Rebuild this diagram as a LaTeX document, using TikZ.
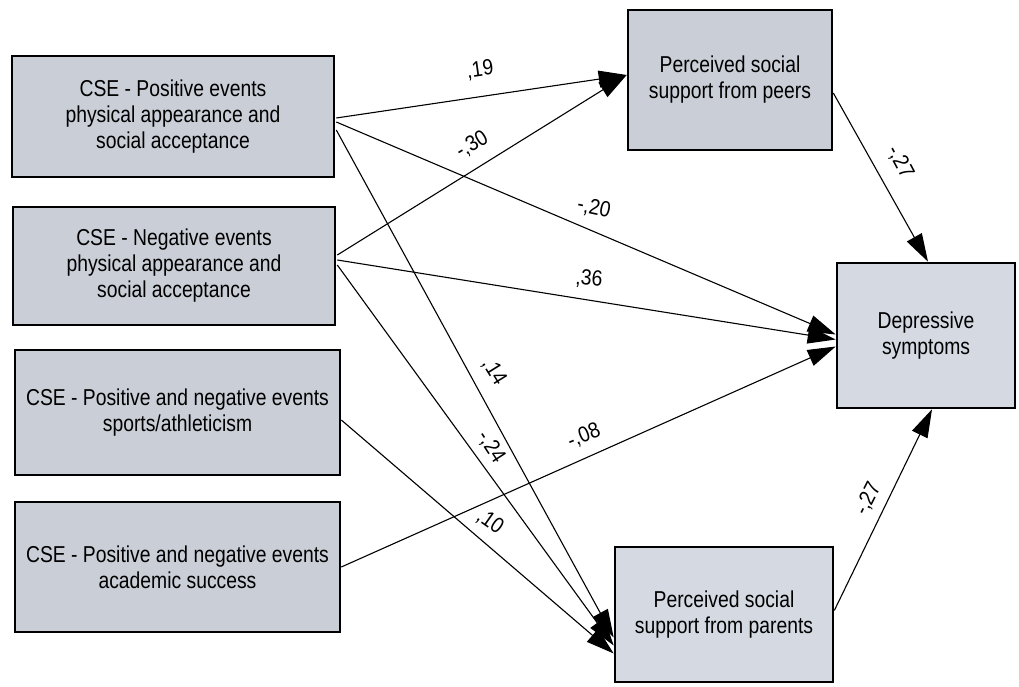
\documentclass[tikz,border=0pt]{standalone}
\usepackage{fontspec}
\usetikzlibrary{arrows.meta,calc}
\newfontfamily\boxfont{Liberation Sans}[FakeStretch=0.84]
\newfontfamily\lblfont{Liberation Sans}[FakeStretch=0.88]
\definecolor{boxfill}{RGB}{202,206,215}
\definecolor{depfill}{RGB}{212,217,226}
\begin{document}
\begin{tikzpicture}[x=1pt,y=-1pt,
  box/.style={draw=black, line width=2.6pt, fill=boxfill, align=center, inner sep=0pt,
    font=\boxfont\fontsize{23}{26}\selectfont},
  conn/.style={line width=1.1pt, -{Triangle[length=28pt,width=17pt]}},
  lbl/.style={font=\lblfont\fontsize{22}{24}\selectfont, inner sep=0pt}]
\useasboundingbox (0,0) rectangle (1019,687);
\fill[white] (0,0) rectangle (1019,687);
% boxes
\node[box, minimum width=322pt, minimum height=121pt] (b1) at (173,116.5)
  {CSE - Positive events\\physical appearance and\\social acceptance};
\node[box, minimum width=322pt, minimum height=118pt] (b2) at (174,266)
  {CSE - Negative events\\physical appearance and\\social acceptance};
\node[box, minimum width=325pt, minimum height=125pt] (b3) at (177.5,412.5)
  {CSE - Positive and negative events\\sports/athleticism};
\node[box, minimum width=325pt, minimum height=130pt] (b4) at (177.5,567)
  {CSE - Positive and negative events\\academic success};
\node[box, minimum width=204pt, minimum height=140pt] (peers) at (730,80)
  {Perceived social\\support from peers};
\node[box, fill=depfill, minimum width=178pt, minimum height=145pt] (dep) at (926,335.5)
  {Depressive\\symptoms};
\node[box, fill=depfill, minimum width=218pt, minimum height=135pt] (par) at (724,614.5)
  {Perceived social\\support from parents};
% connectors
\draw[conn] ($(b1.east)+(1,1.5)$) -- ($(peers.west)+(0,-5)$);
\draw[conn] ($(b2.east)+(1,-11)$) -- ($(peers.west)+(0,-5)$);
\draw[conn] ($(b1.east)+(1,5.5)$) -- ($(dep.west)+(0,-1)$);
\draw[conn] ($(b2.east)+(1,-6)$) -- ($(dep.west)+(0,4)$);
\draw[conn] ($(b4.east)+(0,0)$) -- ($(dep.west)+(0,11)$);
\draw[conn] ($(b1.east)+(1,13.5)$) -- ($(par.west)+(0,23)$);
\draw[conn] ($(b2.east)+(1,-1)$) -- ($(par.west)+(0,31)$);
\draw[conn] ($(b3.east)+(0,7.5)$) -- ($(par.west)+(0,39)$);
\draw[conn] ($(peers.east)+(0,13)$) -- ($(dep.north)+(2,0)$);
\draw[conn] ($(par.east)+(0,-4)$) -- ($(dep.south)+(6,0)$);
% labels
\node[lbl, rotate=8] (l19) at (480,70) {,19};
\node[lbl, rotate=31] (l30) at (472,145) {-,30};
\node[lbl, rotate=-12] (l20) at (594,208) {-,20};
\node[lbl, rotate=-5] (l36) at (589,279) {,36};
\node[lbl, rotate=-58] (l14) at (494,372) {,14};
\node[lbl, rotate=-57] (l24) at (491,447) {-,24};
\node[lbl, rotate=22] (l08) at (584,436) {-,08};
\node[lbl, rotate=-35] (l10) at (490,522) {,10};
\node[lbl, rotate=-62] (l27a) at (900,162) {-,27};
\node[lbl, rotate=63] (l27b) at (868,499) {-,27};
\end{tikzpicture}
\end{document}
